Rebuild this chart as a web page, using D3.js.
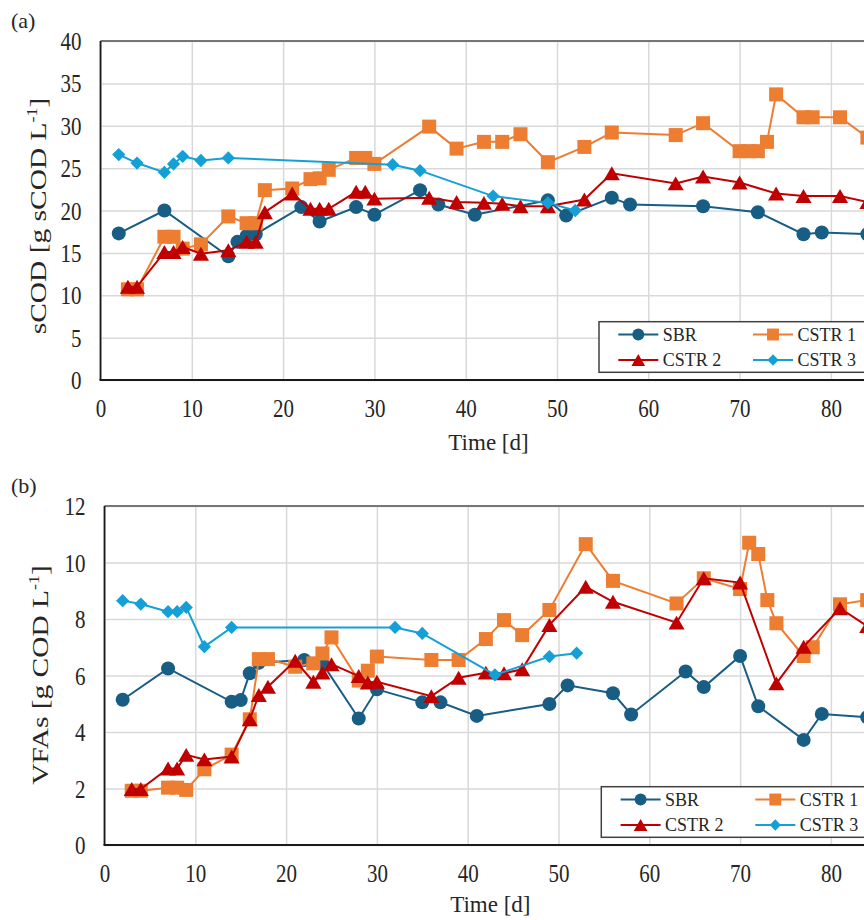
<!DOCTYPE html>
<html>
<head>
<meta charset="utf-8">
<title>sCOD and VFAs</title>
<script src="https://cdn.jsdelivr.net/npm/d3@7"></script>
<style>
body { margin: 0; background: #fff; }
text { font-family: "Liberation Serif", "Times New Roman", serif; fill: #262626; }
</style>
</head>
<body>
<div id="chart"></div>
<script>
// values, days of sampling per reactor
var seriesNames = ['SBR', 'CSTR 1', 'CSTR 2', 'CSTR 3'];

// panel (a) sCOD [g sCOD/L]
var sbrDaysA = [2, 7, 14, 15, 16, 17, 22, 24, 28, 30, 35, 37, 41, 49, 51, 56, 58, 66, 72, 77, 79, 84];
var sbrCOD = [17.3, 20.0, 14.6, 16.3, 17.0, 17.2, 20.4, 18.7, 20.4, 19.5, 22.4, 20.7, 19.5, 21.2, 19.4, 21.5, 20.7, 20.5, 19.8, 17.2, 17.4, 17.2];
var cstr1DaysA = [3, 4, 7, 8, 9, 11, 14, 16, 17, 18, 21, 23, 24, 25, 28, 29, 30, 36, 39, 42, 44, 46, 49, 53, 56, 63, 66, 70, 71, 72, 73, 74, 77, 78, 81, 84];
var cstr1COD = [10.7, 10.7, 16.9, 16.9, 15.5, 16.0, 19.3, 18.5, 18.5, 22.4, 22.6, 23.7, 23.8, 24.8, 26.2, 26.2, 25.5, 29.9, 27.3, 28.1, 28.1, 29.0, 25.7, 27.5, 29.2, 28.9, 30.3, 27.0, 27.0, 27.0, 28.1, 33.7, 31.0, 31.0, 31.0, 28.6];
var cstr2DaysA = [3, 4, 7, 8, 9, 11, 14, 16, 17, 18, 21, 23, 24, 25, 28, 29, 30, 36, 39, 42, 44, 46, 49, 53, 56, 63, 66, 70, 74, 77, 81, 84];
var cstr2COD = [11.0, 11.0, 15.1, 15.1, 15.7, 14.9, 15.3, 16.3, 16.3, 19.8, 22.0, 20.2, 20.2, 20.2, 22.2, 22.2, 21.4, 21.5, 21.0, 20.9, 20.8, 20.5, 20.5, 21.3, 24.4, 23.2, 24.0, 23.3, 22.0, 21.7, 21.7, 21.0];
var cstr3DaysA = [2, 4, 7, 8, 9, 11, 14, 32, 35, 43, 49, 52];
var cstr3COD = [26.6, 25.6, 24.5, 25.5, 26.4, 25.9, 26.2, 25.4, 24.7, 21.7, 20.9, 20.0];

// panel (b) VFAs [g COD/L]
var sbrDaysB = [2, 7, 14, 15, 16, 17, 22, 24, 28, 30, 35, 37, 41, 49, 51, 56, 58, 64, 66, 70, 72, 77, 79, 84];
var sbrVFA = [5.14, 6.25, 5.07, 5.13, 6.08, 6.45, 6.55, 6.43, 4.48, 5.51, 5.05, 5.05, 4.57, 4.99, 5.65, 5.37, 4.62, 6.14, 5.59, 6.69, 4.91, 3.72, 4.64, 4.52];
var cstr1DaysB = cstr1DaysA;
var cstr1VFA = [1.92, 1.92, 2.03, 2.03, 1.95, 2.68, 3.2, 4.45, 6.58, 6.58, 6.31, 6.43, 6.78, 7.35, 5.82, 6.17, 6.67, 6.55, 6.55, 7.29, 7.96, 7.43, 8.32, 10.65, 9.35, 8.55, 9.44, 9.06, 10.7, 10.3, 8.67, 7.85, 6.69, 7.0, 8.52, 8.67];
var cstr2DaysB = cstr2DaysA;
var cstr2VFA = [1.98, 1.98, 2.71, 2.71, 3.19, 3.03, 3.13, 4.45, 5.31, 5.6, 6.52, 5.78, 6.1, 6.4, 5.98, 5.75, 5.78, 5.27, 5.92, 6.1, 6.08, 6.22, 7.79, 9.14, 8.61, 7.87, 9.44, 9.29, 5.72, 7.02, 8.38, 7.75];
var cstr3DaysB = cstr3DaysA;
var cstr3VFA = [8.65, 8.53, 8.26, 8.26, 8.41, 7.02, 7.7, 7.7, 7.49, 6.02, 6.67, 6.79];

var xTicks = [0, 10, 20, 30, 40, 50, 60, 70, 80];
var yTicksA = [0, 5, 10, 15, 20, 25, 30, 35, 40];
var yTicksB = [0, 2, 4, 6, 8, 10, 12];

var colors = ['#175d84', '#ed7d31', '#c00000', '#14a0d6'];
var shapes = ['circle', 'square', 'triangle', 'diamond'];

var svg = d3.select('#chart').append('svg')
    .attr('width', 864)
    .attr('height', 920);

function zip(days, vals) {
    return days.map(function(d, i) { return [d, vals[i]]; });
}

// excel-ish markers, centred on their bounding box
function addMarker(g, shape, color, big) {
    var k = big ? 1 : 0.85;
    if (shape == 'circle') {
        g.append('circle').attr('r', 7 * k).attr('fill', color);
    } else if (shape == 'square') {
        g.append('rect').attr('x', -7 * k).attr('y', -7 * k)
            .attr('width', 14 * k).attr('height', 14 * k).attr('fill', color);
    } else if (shape == 'triangle') {
        g.append('path').attr('fill', color)
            .attr('d', d3.symbol().type(d3.symbolTriangle).size(112 * k * k)())
            .attr('transform', 'translate(0,' + (2.3 * k) + ')');
    } else {
        g.append('path').attr('fill', color)
            .attr('d', d3.symbol().type(d3.symbolSquare).size(88 * k * k)())
            .attr('transform', 'rotate(45)');
    }
}

function panel(opt) {
    var x = d3.scaleLinear().domain([0, 85])
        .range([opt.left, opt.left + 85 * opt.pxDay]);
    var y = d3.scaleLinear().domain([0, opt.yMax])
        .range([opt.bottom, opt.top]);

    // grid
    svg.append('g')
        .attr('transform', 'translate(0,' + opt.bottom + ')')
        .call(d3.axisBottom(x).tickValues(xTicks).tickSize(opt.top - opt.bottom).tickFormat(''))
        .call(function(g) {
            g.select('.domain').remove();
            g.selectAll('line').attr('stroke', '#d9d9d9').attr('stroke-width', 1.5);
        });
    svg.append('g')
        .attr('transform', 'translate(' + opt.left + ',0)')
        .call(d3.axisLeft(y).tickValues(opt.yTicks).tickSize(-900).tickFormat(''))
        .call(function(g) {
            g.select('.domain').remove();
            g.selectAll('line').attr('stroke', '#d9d9d9').attr('stroke-width', 1.5);
        });

    // frame
    svg.append('line')
        .attr('x1', opt.left).attr('x2', 880)
        .attr('y1', opt.top).attr('y2', opt.top)
        .attr('stroke', '#767676').attr('stroke-width', 2);

    // axes with labels
    svg.append('g')
        .attr('transform', 'translate(0,' + opt.bottom + ')')
        .call(d3.axisBottom(x).tickValues(xTicks).tickSize(0).tickPadding(0))
        .call(function(g) {
            g.select('.domain').remove();
            g.selectAll('text')
                .attr('font-size', 21)
                .attr('fill', '#262626')
                .attr('font-family', 'Liberation Serif')
                .attr('dy', null)
                .attr('y', 0)
                .attr('transform', 'translate(0,' + opt.xTickY + ') scale(1,1.15)');
        });
    svg.append('g')
        .attr('transform', 'translate(' + opt.left + ',0)')
        .call(d3.axisLeft(y).tickValues(opt.yTicks).tickSize(0).tickPadding(0))
        .call(function(g) {
            g.select('.domain').remove();
            g.selectAll('text')
                .attr('font-size', 21)
                .attr('fill', '#262626')
                .attr('font-family', 'Liberation Serif')
                .attr('dy', null)
                .attr('x', 0)
                .attr('transform', 'translate(' + (-opt.yTickGap) + ',8.5) scale(1,1.15)');
        });

    svg.append('line')
        .attr('x1', opt.left).attr('x2', opt.left)
        .attr('y1', opt.top).attr('y2', opt.bottom)
        .attr('stroke', '#1a1a1a').attr('stroke-width', 1.8);
    svg.append('line')
        .attr('x1', opt.left - 1).attr('x2', 880)
        .attr('y1', opt.bottom).attr('y2', opt.bottom)
        .attr('stroke', '#1a1a1a').attr('stroke-width', 2);

    // series
    var line = d3.line()
        .x(function(d) { return x(d[0]); })
        .y(function(d) { return y(d[1]); });

    opt.data.forEach(function(pts, i) {
        svg.append('path')
            .datum(pts)
            .attr('fill', 'none')
            .attr('stroke', colors[i])
            .attr('stroke-width', 2)
            .attr('d', line);
        pts.forEach(function(p) {
            var g = svg.append('g')
                .attr('transform', 'translate(' + x(p[0]) + ',' + y(p[1]) + ')');
            addMarker(g, shapes[i], colors[i], true);
        });
    });

    // axis titles
    svg.append('text')
        .attr('x', opt.left + 85 * opt.pxDay / 2)
        .attr('y', opt.bottom + opt.xTitleGap)
        .attr('text-anchor', 'middle')
        .attr('font-size', 23)
        .text('Time [d]');

    var yt = svg.append('text')
        .attr('text-anchor', 'middle')
        .attr('font-size', 23)
        .attr('transform', 'translate(' + opt.yTitleX + ',' + opt.yTitleY + ') rotate(-90) scale(1.28,1)');
    yt.append('tspan').text(opt.yTitle);
    yt.append('tspan').attr('dy', -9).attr('font-size', 14).text('-1');
    yt.append('tspan').attr('dy', 9).text(']');

    svg.append('text')
        .attr('x', 11)
        .attr('y', opt.top - 13)
        .attr('font-size', 22)
        .text(opt.tag);

    // legend
    var lg = svg.append('g')
        .attr('transform', 'translate(' + opt.legX + ',' + opt.legY + ')');
    lg.append('rect')
        .attr('width', 290).attr('height', 50.6)
        .attr('fill', '#fff')
        .attr('stroke', '#404040').attr('stroke-width', 1.5);
    seriesNames.forEach(function(name, i) {
        var cx = (i % 2) ? 174 : 39.3;
        var cy = (i < 2) ? 12.8 : 38.3;
        lg.append('line')
            .attr('x1', cx - 20).attr('x2', cx + 20)
            .attr('y1', cy).attr('y2', cy)
            .attr('stroke', colors[i]).attr('stroke-width', 2);
        var m = lg.append('g').attr('transform', 'translate(' + cx + ',' + cy + ')');
        addMarker(m, shapes[i], colors[i], false);
        lg.append('text')
            .attr('x', cx + 24.5)
            .attr('y', cy + 6.3)
            .attr('font-size', 18)
            .text(name);
    });
}

panel({
    left: 100.5, top: 41, bottom: 380, pxDay: 9.13,
    yMax: 40, yTicks: yTicksA, xTickY: 37, yTickGap: 19, xTitleGap: 70,
    yTitle: 'sCOD [g sCOD L', yTitleX: 46, yTitleY: 216,
    tag: '(a)', legX: 599, legY: 321.7,
    data: [zip(sbrDaysA, sbrCOD), zip(cstr1DaysA, cstr1COD), zip(cstr2DaysA, cstr2COD), zip(cstr3DaysA, cstr3COD)]
});

panel({
    left: 104.5, top: 506, bottom: 845, pxDay: 9.08,
    yMax: 12, yTicks: yTicksB, xTickY: 37, yTickGap: 19, xTitleGap: 67,
    yTitle: 'VFAs [g COD L', yTitleX: 48, yTitleY: 675,
    tag: '(b)', legX: 601.3, legY: 786.7,
    data: [zip(sbrDaysB, sbrVFA), zip(cstr1DaysB, cstr1VFA), zip(cstr2DaysB, cstr2VFA), zip(cstr3DaysB, cstr3VFA)]
});
</script>
</body>
</html>
